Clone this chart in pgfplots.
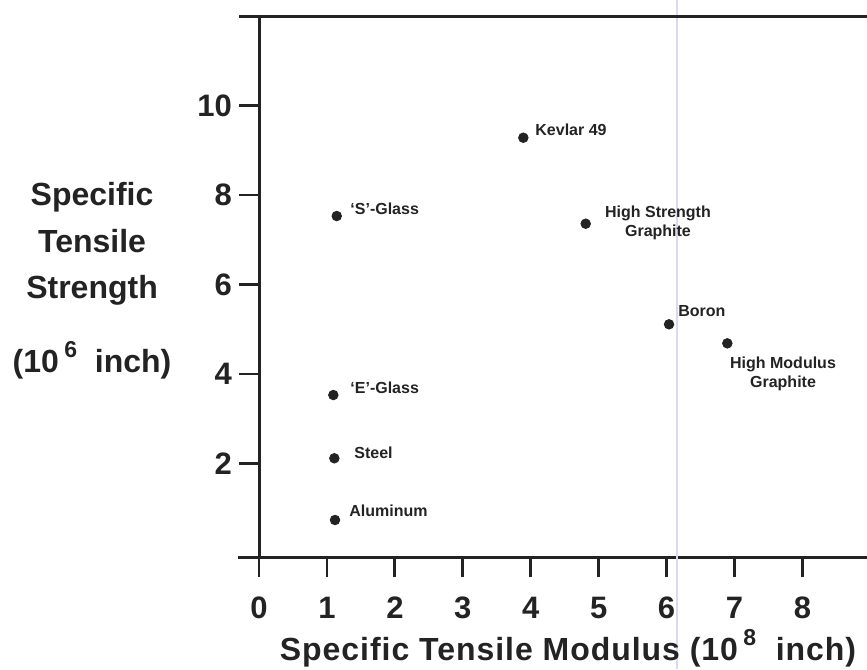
\documentclass[border=0pt]{standalone}
\usepackage{pgfplots}
\pgfplotsset{compat=1.18}
\usepackage{fontspec}
\setmainfont{Liberation Sans}
\definecolor{ink}{RGB}{35,35,35}
\definecolor{scanline}{RGB}{218,218,238}

\begin{document}
\begin{tikzpicture}
\begin{axis}[
    scale only axis,
    width=304pt, height=270.5pt,
    xmin=0, xmax=8.95,
    ymin=-0.09, ymax=12,
    axis x line*=bottom,
    axis y line*=left,
    axis line style={line width=1.5pt, color=ink, -},
    xtick={0,1,2,3,4,5,6,7,8},
    ytick={2,4,6,8,10},
    tick align=outside,
    major tick length=10pt,
    tick style={line width=1.4pt, color=ink},
    ticklabel style={font=\fontsize{15.5}{17}\selectfont\bfseries, text=ink},
    xticklabel style={yshift=-6.5pt},
    /pgf/number format/assume math mode=true,
    clip=false,
]

% faint scan line
\draw[scanline, line width=0.6pt] (axis cs:6.153,-2.593) -- (axis cs:6.153,12.358);

% box overhangs and top line
\draw[ink, line width=1.5pt] (axis cs:-0.294,12) -- (axis cs:8.95,12);
\draw[ink, line width=1.5pt] (axis cs:-0.309,-0.09) -- (axis cs:0,-0.09);

\addplot[only marks, mark=*, mark size=2.4pt, color=ink] coordinates {
    (3.891,9.280) % Kevlar 49
    (1.144,7.530) % S-Glass
    (4.809,7.358) % High Strength Graphite
    (6.036,5.110) % Boron
    (6.894,4.685) % High Modulus Graphite
    (1.094,3.530) % E-Glass
    (1.109,2.116) % Steel
    (1.119,0.737) % Aluminum
};

% point labels
\begin{scope}[every node/.style={inner sep=0pt, text=ink, font=\fontsize{8}{9}\selectfont\bfseries}]
\node[anchor=base west] at (axis cs:4.063,9.340) {Kevlar 49};
\node[anchor=base west] at (axis cs:1.340,7.559) {`S'-Glass};
\node[anchor=base] at (axis cs:5.873,7.499) {High Strength};
\node[anchor=base] at (axis cs:5.873,7.074) {Graphite};
\node[anchor=base west] at (axis cs:6.168,5.280) {Boron};
\node[anchor=base] at (axis cs:7.714,4.124) {High Modulus};
\node[anchor=base] at (axis cs:7.714,3.700) {Graphite};
\node[anchor=base west] at (axis cs:1.340,3.575) {`E'-Glass};
\node[anchor=base west] at (axis cs:1.399,2.113) {Steel};
\node[anchor=base west] at (axis cs:1.325,0.817) {Aluminum};
\end{scope}

% axis titles
\begin{scope}[every node/.style={inner sep=0pt, text=ink, font=\fontsize{16}{18}\selectfont\bfseries, anchor=base}]
\node at (axis cs:-2.458,7.776) {Specific};
\node at (axis cs:-2.458,6.726) {Tensile};
\node at (axis cs:-2.458,5.698) {Strength};
\node at (axis cs:-2.458,4.044) {(10\,\raisebox{0.45em}{\fontsize{11.5}{12}\selectfont 6}\ \ inch)};
\node[font=\fontsize{16}{18}\selectfont\bfseries\addfontfeatures{LetterSpace=3}] at (axis cs:4.549,-2.392) {Specific Tensile Modulus (10\,\raisebox{0.45em}{\fontsize{11.5}{12}\selectfont 8}\ \ inch)};
\end{scope}

\coordinate (bbl) at (axis cs:-3.813,-2.593);
\coordinate (btr) at (axis cs:8.95,12.358);
\end{axis}
\pgfresetboundingbox
\useasboundingbox (bbl) rectangle (btr);
\end{tikzpicture}
\end{document}
